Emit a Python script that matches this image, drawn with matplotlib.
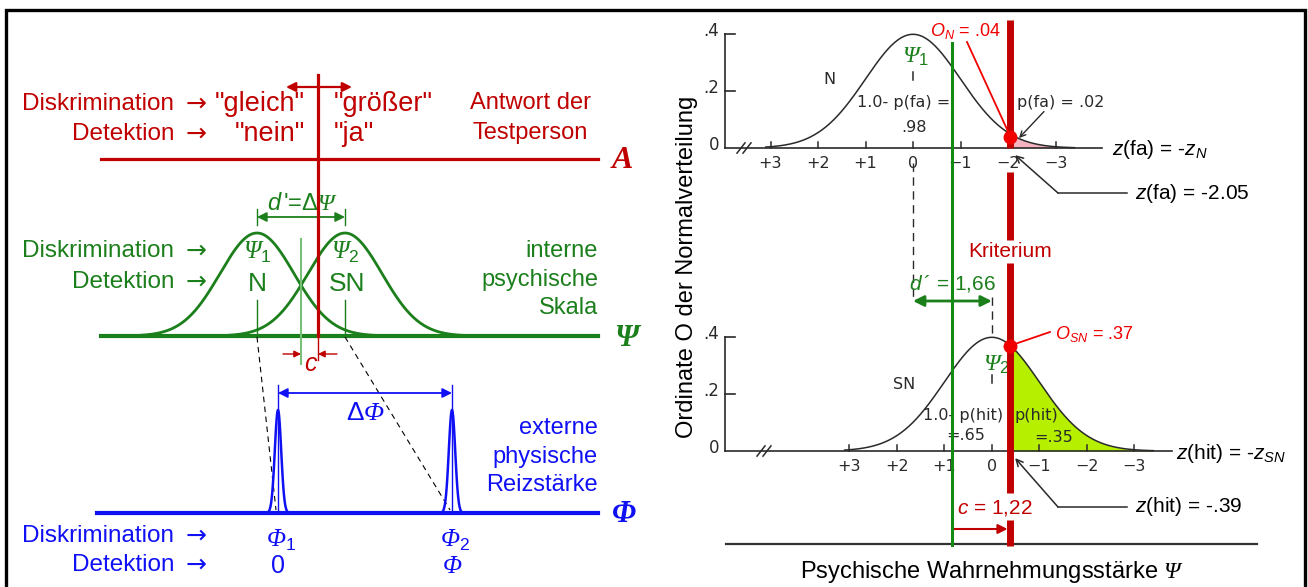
import numpy as np
import matplotlib.pyplot as plt

plt.rcParams['font.family'] = ['Liberation Sans', 'DejaVu Sans']
plt.rcParams['mathtext.fontset'] = 'custom'
plt.rcParams['mathtext.rm'] = 'Liberation Sans'
plt.rcParams['mathtext.it'] = 'Liberation Sans:italic'
plt.rcParams['mathtext.sf'] = 'Liberation Serif:italic'

RED = '#c00000'
BRIGHT = '#f00000'
GREEN = '#1b7f1b'
PALE_GREEN = '#78c078'
BLUE = '#1010f5'
INK = '#2a2a2a'
PINK = '#f6b3bf'
LIME = '#b6f000'
SERIF = 'Liberation Serif'
SCAN = 'DejaVu Sans'

# left schematic: positions on the three scales (panel pixels)
psi_means = [257, 345]      # N, SN
psi_sigma = 37
psi_peak = 103
phi_means = [278, 452]      # Phi1, Phi2
phi_sigma = 3.2
phi_peak = 103
criterion_x = 318
A_y, PSI_y, PHI_y = 159, 336, 513

# right: signal detection example
z_fa = -2.05
z_hit = -0.39
d_prime = 1.66
c_bias = 1.22
o_n = 0.04
o_sn = 0.37
p_fa = 0.02
p_hit = 0.35
z_ticks = [3, 2, 1, 0, -1, -2, -3]
z_labels = ['+3', '+2', '+1', '0', '\u22121', '\u22122', '\u22123']
y_ticks = [0.2, 0.4]
y_labels = ['.2', '.4']


def pdf(x):
    return np.exp(-x ** 2 / 2) / np.sqrt(2 * np.pi)


def short(v):
    return f'{v:.2f}'.replace('0.', '.')


fig = plt.figure(figsize=(13.08, 5.87), dpi=100)
ax = fig.add_axes([0, 0, 1, 1])
ax.set_xlim(0, 1308)
ax.set_ylim(587, 0)
ax.axis('off')

# frame
ax.plot([6, 6, 1305, 1305], [587, 10, 10, 587], color='black', lw=2.4,
        solid_joinstyle='miter')


# ---------- left panel ----------
def arrow(a, xy, xytext, color, lw=1.3, style='<|-|>', ms=14):
    a.annotate('', xy=xy, xytext=xytext,
               arrowprops=dict(arrowstyle=style, color=color, lw=lw,
                               mutation_scale=ms, shrinkA=0, shrinkB=0))


def task_labels(y_top, y_bot, color):
    for txt, y in [('Diskrimination', y_top), ('Detektion', y_bot)]:
        ax.text(174, y, txt, ha='right', va='center', fontsize=17.5, color=color)
        ax.text(207, y, '\u2192', ha='right', va='center', fontsize=18, color=color,
                family='DejaVu Sans')


# response scale A
ax.plot([101, 598], [A_y, A_y], color=RED, lw=2.3)
ax.plot([criterion_x, criterion_x], [75, PSI_y], color=RED, lw=2.3, zorder=4)
ax.plot([criterion_x, criterion_x], [PSI_y, 360], color=RED, lw=1)
arrow(ax, (352, 87), (286, 87), RED, lw=1.6)
task_labels(104, 134, RED)
ax.text(305, 104, '"gleich"', ha='right', va='center', fontsize=19.5, color=RED)
ax.text(305, 134, '"nein"', ha='right', va='center', fontsize=19.5, color=RED)
ax.text(334, 104, '"größer"', ha='left', va='center', fontsize=19.5, color=RED)
ax.text(334, 134, '"ja"', ha='left', va='center', fontsize=19.5, color=RED)
ax.text(530, 103, 'Antwort der', ha='center', va='center', fontsize=17, color=RED)
ax.text(530, 133, 'Testperson', ha='center', va='center', fontsize=17, color=RED)
ax.text(622, A_y + 1, 'A', ha='center', va='center', fontsize=23, color=RED,
        family=SERIF, style='italic', weight='bold')

# internal scale Psi
ax.plot([101, 598], [PSI_y, PSI_y], color=GREEN, lw=3)
for mu in psi_means:
    x = np.linspace(mu - 3.4 * psi_sigma, mu + 3.4 * psi_sigma, 300)
    ax.plot(x, PSI_y - psi_peak * np.exp(-((x - mu) / psi_sigma) ** 2 / 2),
            color=GREEN, lw=2)
    ax.plot([mu, mu], [300, PSI_y], color=GREEN, lw=1)
    ax.plot([mu, mu], [209, 225], color=GREEN, lw=1)
arrow(ax, (psi_means[1], 217), (psi_means[0], 217), GREEN, lw=1.3)
mid = sum(psi_means) / 2
ax.plot([mid, mid], [239, 364], color=PALE_GREEN, lw=1.5, zorder=3)
ax.text(mid + 1, 204, "$d\\,$'=\u0394$\\mathsf{\u03a8}$", ha='center', va='center',
        fontsize=17, color=GREEN)
ax.text(psi_means[0], 252, '$\\mathsf{\u03a8}_{1}$', ha='center', va='center', fontsize=18, color=GREEN)
ax.text(psi_means[1], 252, '$\\mathsf{\u03a8}_{2}$', ha='center', va='center', fontsize=18, color=GREEN)
ax.text(psi_means[0], 284, 'N', ha='center', va='center', fontsize=19, color=GREEN)
ax.text(psi_means[1] + 2, 284, 'SN', ha='center', va='center', fontsize=19, color=GREEN)
task_labels(251, 282, GREEN)
for txt, y in [('interne', 251), ('psychische', 280), ('Skala', 308)]:
    ax.text(598, y, txt, ha='right', va='center', fontsize=17, color=GREEN)
ax.text(626, PSI_y + 2, '\u03a8', ha='center', va='center', fontsize=22, color=GREEN,
        family=SERIF, style='italic', weight='bold')

# criterion offset c
arrow(ax, (mid, 354), (mid - 18, 354), RED, lw=1, style='-|>', ms=10)
arrow(ax, (criterion_x, 354), (criterion_x + 19, 354), RED, lw=1, style='-|>', ms=10)
ax.text(311, 364, '$c$', ha='center', va='center', fontsize=18, color=RED)

# projection to physical scale
for m_psi, m_phi in zip(psi_means, phi_means):
    ax.plot([m_psi, m_phi - 2], [PSI_y + 1, PHI_y - 3], color='black', lw=0.8,
            ls=(0, (5, 4)))

# physical scale Phi
ax.plot([97, 598], [PHI_y, PHI_y], color=BLUE, lw=3)
for mu in phi_means:
    x = np.linspace(mu - 3.5 * phi_sigma, mu + 3.5 * phi_sigma, 100)
    ax.plot(x, PHI_y - phi_peak * np.exp(-((x - mu) / phi_sigma) ** 2 / 2),
            color=BLUE, lw=1.8)
    ax.plot([mu, mu], [385, PHI_y], color=BLUE, lw=1)
arrow(ax, (phi_means[1], 393), (phi_means[0], 393), BLUE, lw=1.3)
ax.text(366, 413, '\u0394$\\mathsf{\u03a6}$', ha='center', va='center', fontsize=19, color=BLUE)
for txt, y in [('externe', 428), ('physische', 457), ('Reizstärke', 485)]:
    ax.text(598, y, txt, ha='right', va='center', fontsize=17, color=BLUE)
ax.text(624, PHI_y + 2, '\u03a6', ha='center', va='center', fontsize=22, color=BLUE,
        family=SERIF, style='italic', weight='bold')
task_labels(536, 565, BLUE)
ax.text(phi_means[0] + 3, 540, '$\\mathsf{\u03a6}_{1}$', ha='center', va='center', fontsize=18, color=BLUE)
ax.text(phi_means[1] + 3, 540, '$\\mathsf{\u03a6}_{2}$', ha='center', va='center', fontsize=18, color=BLUE)
ax.text(phi_means[0], 566, '0', ha='center', va='center', fontsize=18, color=BLUE)
ax.text(phi_means[1], 566, '$\\mathsf{\u03a6}$', ha='center', va='center', fontsize=18, color=BLUE)

# ---------- right panel ----------
PX, X0 = 47.5, 913      # pixels per z unit, position of psi = 0
PY, Y0 = 285, 451       # pixels per ordinate unit, lower baseline


def px(x):
    return (x - X0) / PX


def py(y):
    return (Y0 - y) / PY


axr = fig.add_axes([660 / 1308, 0, 645 / 1308, 1])
axr.set_xlim(px(660), px(1305))
axr.set_ylim(py(587), py(0))
axr.axis('off')

TOP = py(148)
psi_crit = -z_fa
neutral = d_prime / 2

panels = [(TOP, 0.0, PINK, px(1102), px(744)),
          (0.0, d_prime, LIME, px(1172), px(764))]
for base, mu, fill_c, x_end, x_break in panels:
    x = mu + np.linspace(-3.1, 3.4, 400)
    xs = x[x >= psi_crit]
    axr.fill_between(xs, base, base + pdf(xs - mu), color=fill_c, lw=0, zorder=1)
    axr.plot(x, base + pdf(x - mu), color=INK, lw=1.1, zorder=2)
    axr.plot([px(725), x_end], [base, base], color=INK, lw=1.2, zorder=2)
    # y axis with ticks
    axr.plot([px(725), px(725)], [base, base + 0.4], color=INK, lw=1.2)
    for t, lab in zip(y_ticks, y_labels):
        axr.plot([px(725), px(735)], [base + t, base + t], color=INK, lw=1.2)
        axr.text(px(719), base + t + 0.01, lab, ha='right', va='center', fontsize=12,
                 color=INK, family=SCAN)
    axr.text(px(719), base + 0.01, '0', ha='right', va='center', fontsize=12, color=INK,
             family=SCAN)
    # z ticks (z runs opposite to psi)
    for z, lab in zip(z_ticks, z_labels):
        axr.plot([mu - z, mu - z], [base, base + 0.022], color=INK, lw=1.1)
        axr.text(mu - z, base - 0.056, lab, ha='center', va='center', fontsize=11.5,
                 color=INK, family=SCAN)
    # axis break
    for dx in (-3, 3):
        axr.plot([x_break + (dx - 4) / PX, x_break + (dx + 4) / PX],
                 [base - 0.018, base + 0.018], color=INK, lw=1.1)
    # mark under the mean
    axr.plot([mu, mu], [base + 0.24, base + 0.265], color=INK, lw=1.1)


def scan_text(x, y, s, ha='center'):
    axr.text(x, y, s, ha=ha, va='center', fontsize=11.5, color=INK, family=SCAN)


# labels inside the distributions
scan_text(px(829), TOP + 0.239, 'N')
scan_text(px(904), TOP + 0.161, '1.0- p(fa) =')
scan_text(px(914), TOP + 0.072, short(1 - p_fa))
scan_text(px(1061), TOP + 0.158, 'p(fa) = ' + short(p_fa))
arrow(axr, (px(1019), TOP + 0.035), (px(1044), TOP + 0.128), INK, lw=1, style='->', ms=10)

scan_text(px(904), 0.232, 'SN')
scan_text(px(1003), 0.126, '1.0- p(hit)', ha='right')
scan_text(px(966), 0.053, '=' + short(1 - p_hit))
scan_text(px(1014), 0.126, 'p(hit)', ha='left')
scan_text(px(1054), 0.049, '=' + short(p_hit))

axr.text(px(1112), TOP - 0.005, '$z$(fa) = -$z_N$', ha='left', va='center', fontsize=15)
axr.text(px(1176), -0.008, '$z$(hit) = -$z_{SN}$', ha='left', va='center', fontsize=15)

# pointers to the criterion on both z axes
for base, zval, name, y_pix in [(TOP, z_fa, 'fa', 193), (0.0, z_hit, 'hit', 507)]:
    yy = py(y_pix)
    axr.plot([px(1127), px(1058)], [yy, yy], color=INK, lw=1.1)
    arrow(axr, (psi_crit + 0.1, base - 0.025), (px(1058), yy), INK, lw=1.1, style='->', ms=12)
    axr.text(px(1135), yy, f'$z$({name}) = {zval:.2f}'.replace('-0.', '-.'),
             ha='left', va='center', fontsize=15)

# mean separation d'
axr.plot([0, 0], [py(163), py(300)], color=INK, lw=1, ls=(0, (6, 4)))
axr.plot([d_prime, d_prime], [py(297), 0.40], color=INK, lw=1, ls=(0, (6, 4)))
arrow(axr, (d_prime, py(301)), (0, py(301)), GREEN, lw=2, ms=16)
axr.text(d_prime / 2, py(283), f"$d\\,$\u00b4 = {d_prime:.2f}".replace('.', ','),
         ha='center', va='center', fontsize=15, color=GREEN)
axr.text(0.05, TOP + 0.32, '$\\mathsf{\u03a8}_{1}$', ha='center', va='center', fontsize=17, color=GREEN)
axr.text(d_prime + 0.1, py(365), '$\\mathsf{\u03a8}_{2}$', ha='center', va='center', fontsize=17, color=GREEN)

# neutral point and criterion
axr.plot([neutral, neutral], [py(43), py(545)], color='#138a13', lw=2.2, zorder=4)
for y0, y1 in [(20, 148), (172, 240), (263, 493), (520, 546)]:
    axr.plot([psi_crit, psi_crit], [py(y0), py(y1)], color=RED, lw=5, zorder=5,
             solid_capstyle='butt')
axr.text(psi_crit, py(251), 'Kriterium', ha='center', va='center', fontsize=15, color=RED)

# ordinates at the criterion
axr.plot([psi_crit], [TOP + o_n], 'o', color=BRIGHT, ms=9, zorder=6)
axr.plot([psi_crit, px(967)], [TOP + o_n, py(42)], color=BRIGHT, lw=1.3, zorder=6)
axr.text(px(965), py(31), '$O_N$ = ' + short(o_n), ha='center', va='center',
         fontsize=13, color=BRIGHT)
axr.plot([psi_crit], [o_sn], 'o', color=BRIGHT, ms=9, zorder=6)
axr.plot([psi_crit, px(1050)], [o_sn, py(332)], color=BRIGHT, lw=1.3, zorder=6)
axr.text(px(1055), py(334), '$O_{SN}$ = ' + short(o_sn), ha='left',
         va='center', fontsize=13, color=BRIGHT)

# criterion shift c
axr.text(px(995), py(508), f'$c$ = {c_bias:.2f}'.replace('.', ','), ha='center', va='center',
         fontsize=15, color=RED)
arrow(axr, (psi_crit - 0.06, py(529)), (neutral + 0.03, py(529)), RED, lw=1.5, style='-|>', ms=14)

# psychological axis
axr.plot([px(726), px(1257)], [py(544), py(544)], color='#333333', lw=1.6)
axr.text(px(992), py(572), 'Psychische Wahrnehmungsstärke $\\mathsf{\u03a8}$', ha='center',
         va='center', fontsize=17)
axr.text(px(687), py(267), 'Ordinate O der Normalverteilung', rotation=90, ha='center',
         va='center', fontsize=17)

fig.savefig('out.png', dpi=100)
